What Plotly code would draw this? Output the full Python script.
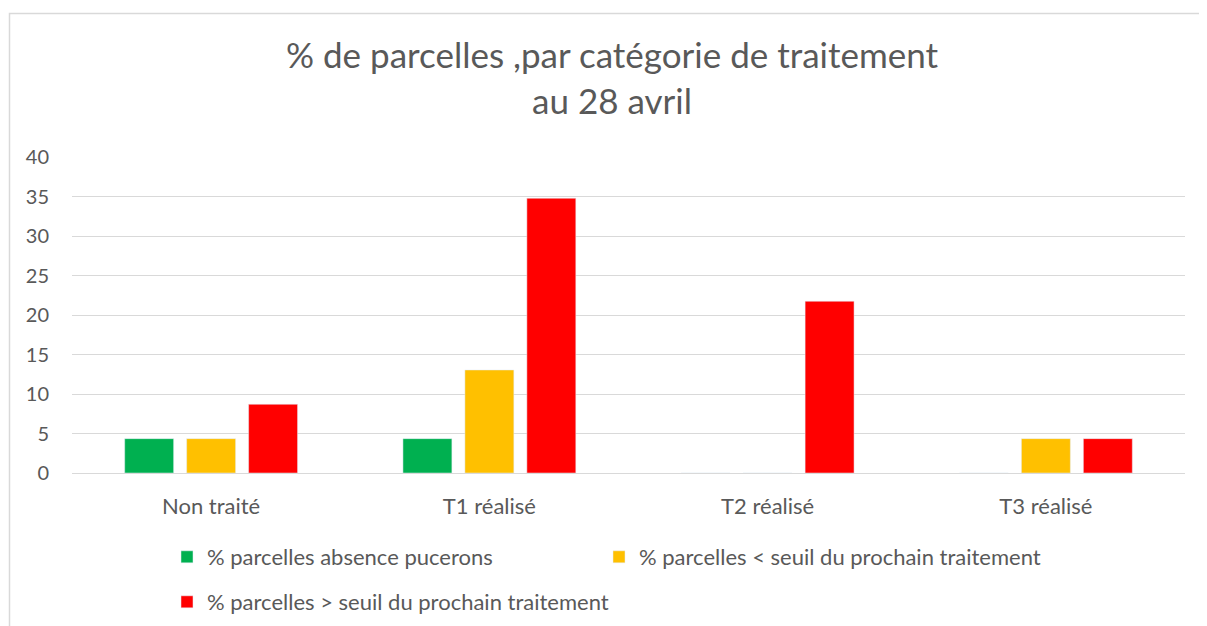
import plotly.graph_objects as go

categories = ["Non traité", "T1 réalisé", "T2 réalisé", "T3 réalisé"]
absence = [4.35, 4.35, 0, 0]
sous_seuil = [4.35, 13.04, 0, 4.35]
sur_seuil = [8.70, 34.78, 21.74, 4.35]
names = ["% parcelles absence pucerons",
         "% parcelles < seuil du prochain traitement",
         "% parcelles > seuil du prochain traitement"]
colors = ["#00B050", "#FFC000", "#FF0000"]

FONT = "Lato, 'Open Sans', sans-serif"
TXT = "#595959"

fig = go.Figure()
fig.add_trace(go.Bar(x=categories, y=absence, name=names[0], marker_color=colors[0], legend="legend"))
fig.add_trace(go.Bar(x=categories, y=sous_seuil, name=names[1], marker_color=colors[1], legend="legend2"))
fig.add_trace(go.Bar(x=categories, y=sur_seuil, name=names[2], marker_color=colors[2], legend="legend3"))

# page has an 8px body margin; work in figure coordinates (reference - 8)
W, H = 1199, 618
L, R, T, B = 64, 22, 149, 153
pw, ph = W - L - R, H - T - B

def px(x):
    return (x - 8 - L) / pw

def py(y):
    return (H - B - (y - 8)) / ph

def leg(x, y):
    return dict(orientation="h", x=px(x), xanchor="left", y=py(y), yanchor="middle",
                font=dict(size=22, color=TXT, family=FONT), bgcolor="rgba(0,0,0,0)")

fig.update_layout(
    width=W, height=H,
    margin=dict(l=L, r=R, t=T, b=B, autoexpand=False),
    paper_bgcolor="white", plot_bgcolor="white",
    font=dict(family=FONT, color=TXT),
    barmode="group", bargap=0.332, bargroupgap=0.21,
    title=dict(text="% de parcelles ,par catégorie de traitement<br>au 28 avril",
               x=604 / W, xanchor="center", y=1 - 60 / H, yanchor="middle",
               font=dict(size=35, color=TXT, family=FONT)),
    xaxis=dict(showgrid=False, showline=False, ticks="", ticklabelstandoff=18,
               tickfont=dict(size=22, color=TXT, family=FONT)),
    yaxis=dict(range=[0, 40], dtick=5, showgrid=True, gridcolor="#d9d9d9", gridwidth=1,
               zeroline=True, zerolinecolor="#d9d9d9", zerolinewidth=1,
               showline=False, ticks="", ticklabelstandoff=22,
               tickfont=dict(size=20, color=TXT, family=FONT)),
    legend=leg(167, 557),
    legend2=leg(599, 557),
    legend3=leg(167, 602),
    showlegend=True,
    shapes=[dict(type="rect", xref="paper", yref="paper",
                 x0=px(9.5), x1=px(1240), y0=py(660), y1=py(13.5),
                 line=dict(color="#d9d9d9", width=1.5), fillcolor="rgba(0,0,0,0)", layer="below")],
)

fig.write_html("out.html")
